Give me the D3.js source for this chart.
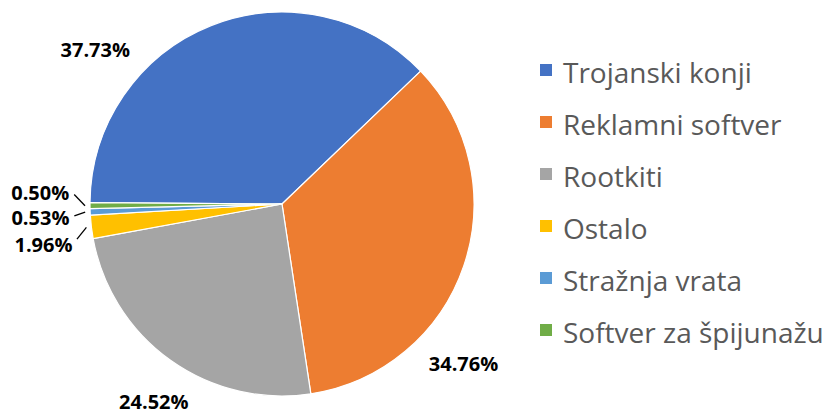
<!DOCTYPE html>
<html lang="hr">
<head>
<meta charset="UTF-8">
<title>Vrste zlonamjernog softvera</title>
<script src="https://cdn.jsdelivr.net/npm/d3@7"></script>
<style>
body { margin: 0; background: #fff; }
#chart { width: 830px; height: 414px; }
.pct { font-family: "Open Sans", sans-serif; font-weight: bold; font-size: 20px; fill: #000; }
.leg { font-family: "Open Sans", sans-serif; font-size: 28px; fill: #595959; }
</style>
</head>
<body>
<div id="chart"></div>
<script>
// data
var categories = ["Trojanski konji", "Reklamni softver", "Rootkiti", "Ostalo", "Stražnja vrata", "Softver za špijunažu"];
var values = [37.73, 34.76, 24.52, 1.96, 0.53, 0.50];
var colors = ["#4472C4", "#ED7D31", "#A5A5A5", "#FFC000", "#5B9BD5", "#70AD47"];

// where each label sits (degrees clockwise from 12 o'clock, distance from centre)
var labelAngles = [-50.5, 131.4, 212.9, 260.3, 266.7, 272.6];
var labelRadii = [242, 242, 236, 242, 242, 242];

var width = 830, height = 414;
var cx = 282, cy = 204, radius = 192;
var rad = Math.PI / 180;

var svg = d3.select("#chart").append("svg")
  .attr("width", width)
  .attr("height", height);

var g = svg.append("g").attr("transform", "translate(" + cx + "," + cy + ")");

var pie = d3.pie().sort(null).value(function (d) { return d; })
  .startAngle(-89.6 * rad).endAngle(270.4 * rad);
var arcs = pie(values);

var arc = d3.arc().innerRadius(0).outerRadius(radius);

g.selectAll("path.slice")
  .data(arcs)
  .enter().append("path")
  .attr("class", "slice")
  .attr("d", arc)
  .attr("fill", function (d, i) { return colors[i]; })
  .attr("stroke", "#fff")
  .attr("stroke-width", 1.2);

function polar(a, r) { return [Math.sin(a) * r, -Math.cos(a) * r]; }

// labels
g.selectAll("text.pct")
  .data(arcs)
  .enter().append("text")
  .attr("class", "pct")
  .attr("text-anchor", "middle")
  .attr("dy", "0.36em")
  .attr("x", function (d, i) { return polar(labelAngles[i] * rad, labelRadii[i])[0]; })
  .attr("y", function (d, i) { return polar(labelAngles[i] * rad, labelRadii[i])[1]; })
  .text(function (d) { return d.value.toFixed(2) + "%"; });

// leader lines for the thin slices
var small = arcs.filter(function (d) { return d.value < 3; });
g.selectAll("line.leader")
  .data(small)
  .enter().append("line")
  .attr("class", "leader")
  .each(function (d) {
    var i = arcs.indexOf(d);
    var mid = (d.startAngle + d.endAngle) / 2;
    var p0 = polar(labelAngles[i] * rad, 208);
    var p1 = polar(mid, 197);
    d3.select(this)
      .attr("x1", p0[0]).attr("y1", p0[1])
      .attr("x2", p1[0]).attr("y2", p1[1]);
  })
  .attr("stroke", "#000")
  .attr("stroke-width", 1.3);

// legend
var legend = svg.append("g").attr("transform", "translate(540,73)");
var rows = legend.selectAll("g")
  .data(categories)
  .enter().append("g")
  .attr("transform", function (d, i) { return "translate(0," + (i * 52) + ")"; });

rows.append("rect")
  .attr("x", 0).attr("y", -9)
  .attr("width", 12).attr("height", 12)
  .attr("fill", function (d, i) { return colors[i]; });

rows.append("text")
  .attr("class", "leg")
  .attr("x", 23)
  .attr("dy", "0.35em")
  .text(function (d) { return d; });
</script>
</body>
</html>
